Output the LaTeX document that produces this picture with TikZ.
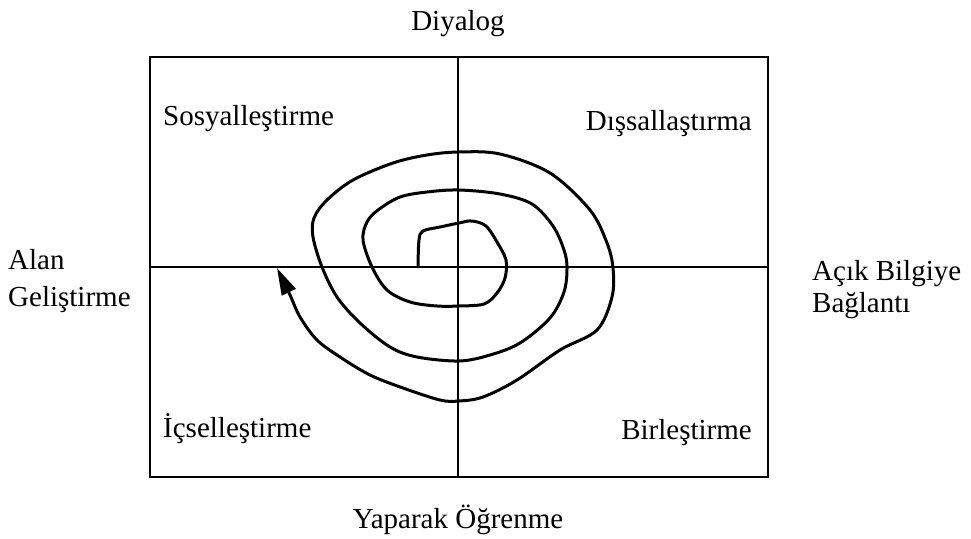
\documentclass[tikz,border=0pt]{standalone}
\usepackage{fontspec}
\setmainfont{Liberation Serif}
\usetikzlibrary{arrows.meta,positioning}
\tikzset{
  frame/.style={line width=1.6pt},
  axisline/.style={line width=1.3pt},
  lbl/.style={inner sep=0pt, font=\fontsize{29}{35}\selectfont},
  spiral/.style={line width=3pt, line cap=round, line join=round,
                 -{Triangle[length=27pt,width=15pt]}},
}

\begin{document}
\begin{tikzpicture}[x=1pt,y=-1pt]
  \useasboundingbox (0,0) rectangle (971,538);
  % frame and the two axes
  \coordinate (nw) at (150,57);
  \coordinate (se) at (768,477);
  \coordinate (top) at (458,57);
  \coordinate (bot) at (458,477);
  \coordinate (lft) at (150,267);
  \coordinate (rgt) at (768,267);
  \draw[frame] (nw) rectangle (se);
  \draw[axisline] (top) -- (bot);
  \draw[axisline] (lft) -- (rgt);

  % the four modes
  \node[lbl, anchor=base west] (sos) at (163,125) {Sosyalleştirme};
  \node[lbl, anchor=base east] (dis) at (752,130) {Dışsallaştırma};
  \node[lbl, anchor=base west] (ics) at (163,437) {İçselleştirme};
  \node[lbl, anchor=base east] (bir) at (752,439) {Birleştirme};

  % outer labels
  \node[lbl, anchor=base] (dia) at (458,30) {Diyalog};
  \node[lbl, anchor=base] (yap) at (458,528) {Yaparak Öğrenme};
  \node[lbl, anchor=base west] (alan) at (8,269) {Alan};
  \node[lbl, anchor=base west] (gel) at ([yshift=-37pt]alan.base west) {Geliştirme};
  \node[lbl, anchor=base west] (acik) at (812,280) {Açık Bilgiye};
  \node[lbl, anchor=base west] (bag) at ([yshift=-32pt]acik.base west) {Bağlantı};

  % knowledge spiral
  \draw[spiral] plot[smooth, tension=0.55] coordinates {
    (418,267) (419,240) (423,231) (440,227) (459,223) (472,221) (486,226)
    (497,242) (506,260) (505,278) (497,293) (484,304) (459,306) (437,306)
    (410,302) (387,290) (372,267) (363,240) (367,222) (378,210) (400,197)
    (427,192) (459,190) (500,194) (532,204) (553,226) (564,250) (567,268)
    (564,292) (550,318) (520,343) (490,355) (459,361) (417,357) (390,347)
    (360,323) (337,297) (322,267) (313,237) (314,218) (327,200) (353,180)
    (393,163) (427,155) (459,152) (500,154) (550,173) (590,210) (607,243)
    (613,268) (612,297) (597,330) (560,350) (517,380) (483,397) (459,401)
    (440,400) (403,388) (370,375) (340,357) (317,340) (300,317) (290,295)
    (277,268)};
\end{tikzpicture}
\end{document}
